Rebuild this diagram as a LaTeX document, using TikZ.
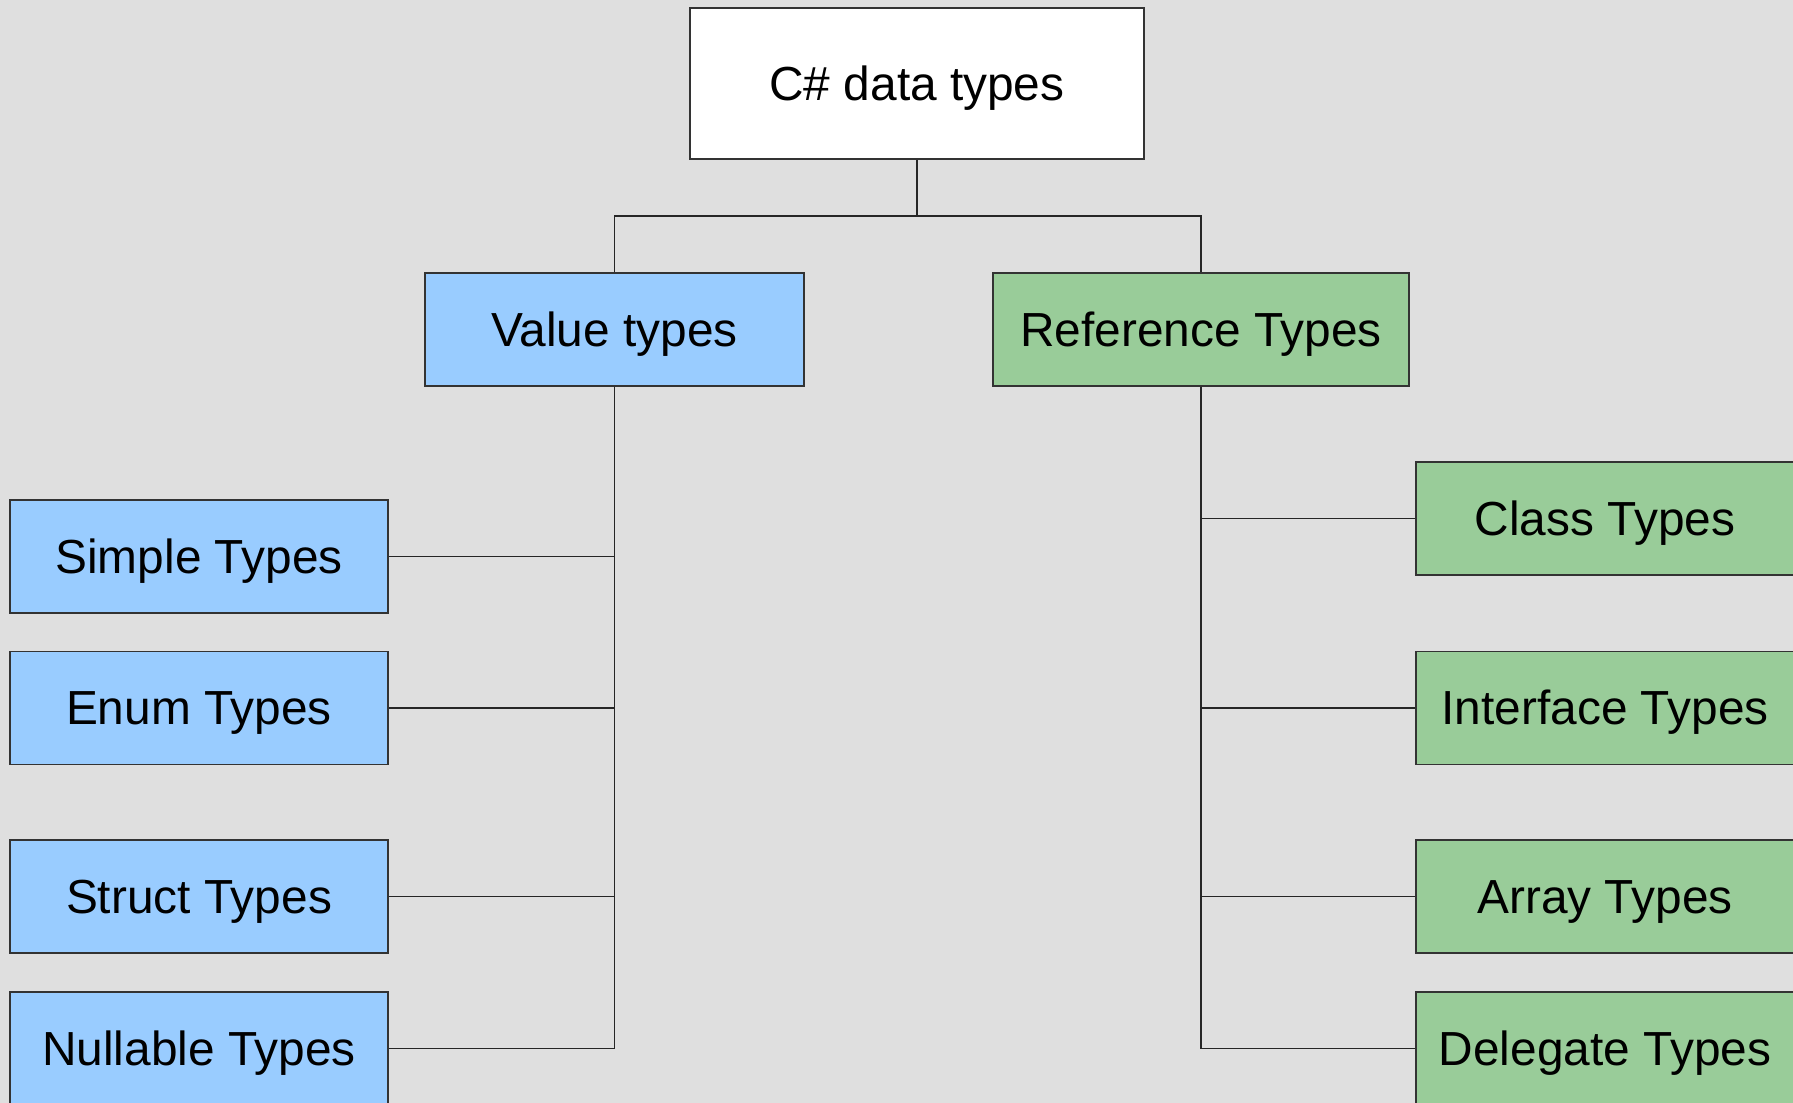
\documentclass[tikz,border=0pt]{standalone}
\usepackage{fontspec}
\setmainfont{Liberation Sans}
\usetikzlibrary{positioning}

\definecolor{valblue}{RGB}{153,204,255}
\definecolor{refgreen}{RGB}{153,204,153}
\definecolor{paper}{RGB}{223,223,223}

\tikzset{
  typebox/.style={shape=rectangle, draw=black!80, line width=0.45pt, inner sep=0pt,
    minimum width=3.78cm, minimum height=1.13cm, text=black,
    font={\fontsize{13.6}{16}\selectfont}, text height=0.33cm, text depth=0cm},
  rootbox/.style={typebox, fill=white, minimum width=4.54cm, minimum height=1.51cm},
  valbox/.style={typebox, fill=valblue},
  refbox/.style={typebox, fill=refgreen},
  link/.style={draw=black!85, line width=0.45pt}
}

\begin{document}
\begin{tikzpicture}[x=0.01cm, y=-0.01cm]
\useasboundingbox (0,0) rectangle (1793,1103);
\clip (0,0) rectangle (1793,1103);
\fill [paper] (0,0) rectangle (1793,1103);

\node [rootbox] (v1) at (917,83.5) {C\# data types};
\node [valbox, minimum width=3.79cm] (v2) at (614.5,329.5) {Value types};
\node [refbox, minimum width=4.16cm] (v3) at (1201,329.5) {Reference Types};
\node [valbox] (v4) at (199,556.5) {Simple Types};
\node [valbox] (v5) at (199,708) {Enum Types};
\node [valbox] (v6) at (199,896.5) {Struct Types};
\node [valbox] (v7) at (199,1048.5) {Nullable Types};
\node [refbox] (v8) at (1605,518.5) {Class Types};
\node [refbox] (v9) at (1605,708) {Interface Types};
\node [refbox] (v10) at (1605,896.5) {Array Types};
\node [refbox] (v11) at (1605,1048.5) {Delegate Types};
\coordinate (j1) at (917,216);

\draw [link] (v1) -- (j1);
\draw [link] (j1) -| (v2);
\draw [link] (j1) -| (v3);
\draw [link] (v2) |- (v4);
\draw [link] (v2) |- (v5);
\draw [link] (v2) |- (v6);
\draw [link] (v2) |- (v7);
\draw [link] (v3) |- (v8);
\draw [link] (v3) |- (v9);
\draw [link] (v3) |- (v10);
\draw [link] (v3) |- (v11);
\end{tikzpicture}
\end{document}
